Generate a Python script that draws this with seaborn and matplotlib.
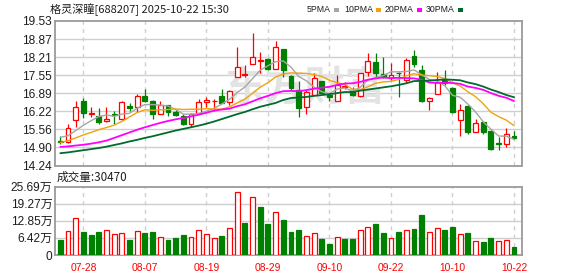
import numpy as np
import pandas as pd
import matplotlib
matplotlib.use("Agg")
import matplotlib.pyplot as plt
import seaborn as sns

# ---------------- data ----------------
dates = ["07-23", "07-24", "07-25", "07-28", "07-29", "07-30", "07-31", "08-01",
         "08-04", "08-05", "08-06", "08-07", "08-08", "08-11", "08-12", "08-13",
         "08-14", "08-15", "08-18", "08-19", "08-20", "08-21", "08-22", "08-25",
         "08-26", "08-27", "08-28", "08-29", "09-01", "09-02", "09-03", "09-04",
         "09-05", "09-08", "09-09", "09-10", "09-11", "09-12", "09-15", "09-16",
         "09-17", "09-18", "09-19", "09-22", "09-23", "09-24", "09-25", "09-26",
         "09-29", "09-30", "10-09", "10-10", "10-13", "10-14", "10-15", "10-16",
         "10-17", "10-20", "10-21", "10-22"]

opens = [15.12, 15.09, 15.91, 16.60, 16.13, 16.04, 15.86, 16.13, 15.94, 16.42,
         16.37, 16.78, 16.60, 16.11, 16.44, 16.19, 16.06, 15.75, 16.17, 16.58,
         16.59, 16.78, 16.55, 17.47, 17.57, 17.94, 18.07, 18.14, 17.76, 18.50,
         17.52, 17.00, 16.37, 16.81, 17.33, 16.82, 16.60, 17.13, 16.97, 16.80,
         17.66, 18.03, 17.59, 17.43, 17.63, 17.37, 18.25, 17.74, 16.61, 16.86,
         17.40, 17.08, 15.90, 16.42, 15.46, 15.84, 15.51, 15.04, 15.01, 15.32]
highs = [15.32, 15.75, 16.60, 16.71, 16.37, 16.33, 16.37, 16.23, 16.60, 16.52,
         16.86, 17.04, 16.62, 16.60, 16.46, 16.27, 16.11, 16.15, 16.67, 16.74,
         16.66, 17.03, 16.99, 18.59, 17.92, 19.10, 18.38, 18.16, 18.80, 18.52,
         17.55, 17.33, 17.00, 17.62, 17.35, 16.84, 17.55, 17.30, 17.13, 17.64,
         18.35, 18.35, 18.20, 17.98, 17.68, 18.16, 18.47, 17.92, 16.76, 17.68,
         17.74, 17.10, 16.48, 16.44, 15.94, 15.86, 15.53, 15.28, 15.60, 15.50]
lows = [15.03, 15.08, 15.66, 15.97, 16.03, 15.75, 15.83, 15.75, 15.91, 16.25,
        16.20, 16.58, 15.95, 16.11, 16.06, 16.04, 15.71, 15.64, 16.15, 16.37,
        16.25, 16.52, 16.45, 17.47, 17.47, 17.94, 17.62, 17.74, 17.76, 17.49,
        17.00, 16.03, 16.13, 16.81, 16.86, 16.61, 16.60, 17.04, 16.78, 16.76,
        17.52, 17.43, 17.43, 17.38, 16.76, 17.25, 17.86, 16.58, 16.27, 16.86,
        17.19, 16.15, 15.33, 15.38, 15.46, 15.38, 14.81, 14.82, 14.93, 15.20]
closes = [15.10, 15.60, 16.37, 16.17, 16.15, 15.84, 15.94, 16.09, 16.56, 16.33,
          16.77, 16.60, 16.11, 16.44, 16.19, 16.10, 15.75, 16.11, 16.55, 16.62,
          16.61, 16.54, 16.97, 17.83, 17.58, 18.20, 18.08, 17.76, 18.57, 17.74,
          17.07, 16.36, 16.94, 17.43, 16.89, 16.74, 17.19, 17.15, 16.82, 17.62,
          18.08, 17.62, 17.49, 17.55, 17.62, 18.10, 17.94, 16.61, 16.70, 17.28,
          17.25, 16.20, 16.27, 15.47, 15.80, 15.48, 14.84, 15.03, 15.38, 15.26]

ma5 = [15.27, 15.33, 15.52, 15.71, 15.88, 16.03, 16.09, 16.04, 16.12, 16.15,
       16.34, 16.47, 16.47, 16.45, 16.42, 16.29, 16.12, 16.12, 16.14, 16.23,
       16.33, 16.49, 16.66, 16.91, 17.11, 17.42, 17.73, 17.89, 18.04, 18.07,
       17.84, 17.50, 17.34, 17.11, 16.94, 16.87, 17.04, 17.08, 16.96, 17.10,
       17.37, 17.46, 17.53, 17.67, 17.67, 17.68, 17.74, 17.56, 17.39, 17.33,
       17.16, 16.81, 16.74, 16.49, 16.20, 15.84, 15.57, 15.32, 15.31, 15.20]
ma10 = [15.08, 15.15, 15.25, 15.36, 15.45, 15.55, 15.63, 15.72, 15.85, 16.02,
        16.18, 16.28, 16.26, 16.28, 16.29, 16.31, 16.29, 16.30, 16.30, 16.32,
        16.31, 16.30, 16.39, 16.53, 16.67, 16.88, 17.11, 17.27, 17.48, 17.59,
        17.63, 17.62, 17.61, 17.57, 17.50, 17.36, 17.27, 17.21, 17.03, 17.02,
        17.12, 17.25, 17.30, 17.32, 17.39, 17.52, 17.60, 17.55, 17.53, 17.50,
        17.42, 17.27, 17.15, 16.94, 16.76, 16.50, 16.19, 16.03, 15.90, 15.70]
ma20 = [14.92, 14.94, 14.97, 15.00, 15.04, 15.09, 15.15, 15.25, 15.35, 15.45,
        15.55, 15.64, 15.72, 15.80, 15.87, 15.93, 15.98, 16.04, 16.10, 16.17,
        16.25, 16.29, 16.32, 16.41, 16.48, 16.59, 16.70, 16.79, 16.89, 16.96,
        16.97, 16.96, 17.00, 17.05, 17.09, 17.12, 17.19, 17.24, 17.25, 17.30,
        17.38, 17.43, 17.46, 17.44, 17.45, 17.44, 17.43, 17.38, 17.28, 17.26,
        17.27, 17.26, 17.23, 17.13, 17.08, 17.01, 16.89, 16.79, 16.72, 16.60]
ma30 = [14.69, 14.72, 14.76, 14.80, 14.84, 14.88, 14.93, 14.99, 15.05, 15.12,
        15.18, 15.25, 15.31, 15.38, 15.45, 15.52, 15.58, 15.64, 15.70, 15.77,
        15.85, 15.94, 16.03, 16.12, 16.20, 16.30, 16.39, 16.46, 16.53, 16.64,
        16.71, 16.73, 16.75, 16.79, 16.82, 16.85, 16.89, 16.93, 16.93, 16.98,
        17.02, 17.06, 17.10, 17.14, 17.19, 17.25, 17.33, 17.34, 17.35, 17.37,
        17.39, 17.38, 17.36, 17.28, 17.22, 17.13, 17.02, 16.93, 16.82, 16.74]

volumes = [56000, 88500, 137000, 86000, 75000, 86000, 92000, 77000, 81000, 56000,
           88500, 82000, 86000, 66000, 56000, 64000, 75000, 66000, 92000, 77000,
           62000, 71000, 100000, 238000, 120000, 216000, 180000, 116000, 160000, 132000,
           86000, 93500, 71000, 82000, 61000, 41000, 67000, 61000, 61000, 93500,
           105000, 117000, 82000, 64000, 86000, 93500, 98500, 151000, 86000, 101000,
           95000, 105000, 78500, 82000, 52000, 49000, 65000, 52000, 56000, 30470]
vol_up = [0, 1, 1, 0, 0, 0, 1, 1, 1, 0, 1, 0, 0, 1, 0, 0, 0, 1, 1, 1,
          1, 0, 1, 1, 0, 1, 0, 0, 1, 0, 0, 0, 1, 1, 0, 0, 1, 0, 0, 1,
          1, 0, 0, 1, 0, 1, 0, 0, 1, 1, 0, 0, 1, 0, 1, 0, 0, 1, 1, 0]

price_ticks = [14.24, 14.90, 15.56, 16.22, 16.89, 17.55, 18.21, 18.87, 19.53]
price_labels = ["14.24", "14.90", "15.56", "16.22", "16.89", "17.55", "18.21", "18.87", "19.53"]
vol_ticks = [0, 64225, 128450, 192675, 256900]
vol_labels = ["0", "6.42万", "12.85万", "19.27万", "25.69万"]
date_ticks = [3, 11, 19, 27, 35, 43, 51, 59]

title_text = "格灵深瞳[688207] 2025-10-22 15:30"
ma_names = ["5PMA", "10PMA", "20PMA", "30PMA"]
ma_colors = ["#a6a6a6", "#f0a30a", "#ff00ff", "#006b2d"]
vol_title = "成交量:30470"

# ---------------- style ----------------
sns.set_theme(style="white")
plt.rcParams["font.family"] = ["Liberation Sans", "Noto Sans CJK SC", "DejaVu Sans"]

RED = "#ff0000"
GREEN = "#008000"
FRAME = "#9a9a9a"
GRID = "#cfcfcf"
TXT = "#1e1e1e"

W, H = 578, 276
fig = plt.figure(figsize=(W / 100, H / 100), dpi=100)
fig.patch.set_facecolor("white")

def frac(left, top, right, bottom):
    return [left / W, 1 - bottom / H, (right - left) / W, (bottom - top) / H]

ax = fig.add_axes(frac(55, 21, 522, 165.5))
axv = fig.add_axes(frac(55, 186.5, 522, 255))

idx = np.arange(len(closes))
xlim = (-0.69, 60.04)
bw = 0.64

df = pd.DataFrame({"i": idx, "open": opens, "high": highs, "low": lows, "close": closes,
                   "ma5": ma5, "ma10": ma10, "ma20": ma20, "ma30": ma30,
                   "vol": volumes, "up": vol_up})

# ---- price panel ----
ax.set_xlim(*xlim)
ax.set_ylim(price_ticks[0], price_ticks[-1])
for t in price_ticks[1:-1]:
    ax.axhline(t, color=GRID, lw=1.0, zorder=0)
for t in date_ticks:
    ax.axvline(t, color=GRID, lw=1.0, ls=(0, (3, 3)), zorder=0)

ax.text(0.535, 0.53, "东方财富", transform=ax.transAxes, ha="center", va="center",
        fontsize=29, fontweight="bold", style="italic", color="#e3e3e3",
        family=["Noto Sans CJK SC"], zorder=0.5)

for i, o, h, l, c in zip(idx, opens, highs, lows, closes):
    up = c >= o
    col = RED if up else GREEN
    ax.vlines(i, l, h, color=col, lw=0.9, zorder=2)
    hgt = max(abs(c - o), 0.02)
    ax.bar(i, hgt, bottom=min(o, c), width=bw, facecolor="white" if up else GREEN,
           edgecolor=col, linewidth=0.9, zorder=3)

for name, col, lw in zip(["ma5", "ma10", "ma20", "ma30"], ma_colors, [1.0, 1.0, 1.3, 1.3]):
    sns.lineplot(data=df, x="i", y=name, color=col, lw=lw, ax=ax, legend=False, zorder=4)

ax.set_yticks(price_ticks)
ax.set_yticklabels(price_labels)
ax.set_xticks([])
ax.set_xlabel("")
ax.set_ylabel("")
ax.tick_params(axis="y", length=0, pad=2, labelsize=8.6, labelcolor=TXT)
for s in ax.spines.values():
    s.set_color(FRAME)
    s.set_linewidth(1.3)

# ---- volume panel ----
axv.set_xlim(*xlim)
axv.set_ylim(0, vol_ticks[-1])
for t in vol_ticks[1:-1]:
    axv.axhline(t, color=GRID, lw=1.0, zorder=0)
for t in date_ticks:
    axv.axvline(t, color=GRID, lw=1.0, ls=(0, (3, 3)), zorder=0)
for i, v, u in zip(idx, volumes, vol_up):
    axv.bar(i, v, width=bw, facecolor="white" if u else GREEN,
            edgecolor=RED if u else GREEN, linewidth=0.9, zorder=3)
axv.set_yticks(vol_ticks)
axv.set_yticklabels(vol_labels)
axv.set_xticks(date_ticks)
axv.set_xticklabels([dates[i] for i in date_ticks])
axv.tick_params(axis="y", length=0, pad=2, labelsize=8.6, labelcolor=TXT)
axv.tick_params(axis="x", length=0, pad=6, labelsize=7.4, labelcolor=RED)
for s in axv.spines.values():
    s.set_color(FRAME)
    s.set_linewidth(1.3)

# ---- header texts ----
fig.text(50 / W, 1 - 9.5 / H, title_text, ha="left", va="center", fontsize=8.0,
         color=TXT, family=["Noto Sans CJK SC"])
fig.text(57 / W, 1 - 177.5 / H, vol_title, ha="left", va="center", fontsize=8.4,
         color=TXT, family=["Noto Sans CJK SC", "DejaVu Sans"])

renderer = fig.canvas.get_renderer()
leg_x = [307, 344, 385, 426]
for name, col, lx in zip(ma_names, ma_colors, leg_x):
    t = fig.text(lx / W, 1 - 9 / H, name, ha="left", va="center", fontsize=6.3,
                 color=TXT)
    bb = t.get_window_extent(renderer=renderer)
    sx = bb.x1 + 3
    fig.patches.append(matplotlib.patches.Rectangle((sx / W, 1 - 11.5 / H), 5 / W, 4 / H,
                       transform=fig.transFigure, facecolor=col, edgecolor="none"))

fig.savefig("out.png", dpi=100, facecolor="white")
